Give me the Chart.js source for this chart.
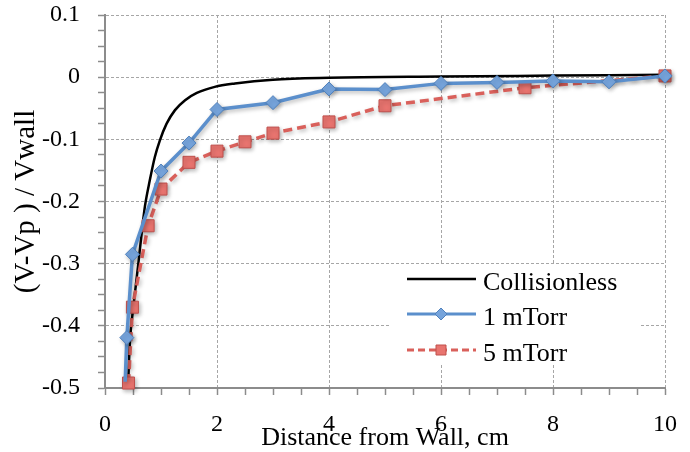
<!DOCTYPE html>
<html>
<head>
<meta charset="utf-8">
<script src="https://cdn.jsdelivr.net/npm/chart.js@4"></script>
<style>
html,body{margin:0;padding:0;background:#fff;}
#wrap{width:690px;height:452px;}
</style>
</head>
<body>
<div id="wrap"><canvas id="c" width="690" height="452"></canvas></div>
<script>
// ---- data ----
const xCollisionless = [0.41, 0.446, 0.506, 0.595, 0.68, 0.714, 0.80, 0.89, 0.98, 1.10, 1.25, 1.43, 1.64, 1.96, 2.32, 3.0, 4.0, 6.0, 8.0, 10.0];
const yCollisionless = [-0.50, -0.424, -0.370, -0.300, -0.231, -0.207, -0.166, -0.1285, -0.1016, -0.0747, -0.053, -0.037, -0.0253, -0.0156, -0.0102, -0.004, -0.001, 0.001, 0.0025, 0.004];

const x1mTorr = [0.36, 0.39, 0.49, 1.0, 1.5, 2.0, 3.0, 4.0, 5.0, 6.0, 7.0, 8.0, 9.0, 10.0];
const y1mTorr = [-0.49, -0.419, -0.285, -0.151, -0.106, -0.052, -0.041, -0.019, -0.020, -0.010, -0.0085, -0.006, -0.0075, 0.002];

const x5mTorr = [0.42, 0.49, 0.77, 1.0, 1.5, 2.0, 2.5, 3.0, 4.0, 5.0, 7.5, 10.0];
const y5mTorr = [-0.492, -0.370, -0.239, -0.180, -0.137, -0.119, -0.104, -0.090, -0.072, -0.046, -0.017, 0.002];

const seriesNames = ['Collisionless', '1 mTorr', '5 mTorr'];
const xTickLabels = ['0', '2', '4', '6', '8', '10'];
const yTickLabels = ['-0.5', '-0.4', '-0.3', '-0.2', '-0.1', '0', '0.1'];
const xTitle = 'Distance from Wall, cm';
const yTitle = '(V-Vp ) / Vwall';

const toPts = (xs, ys) => xs.map((x, i) => ({x: x, y: ys[i]}));

const SERIF = '"Liberation Serif", "Times New Roman", serif';
const AXIS = '#8c8c8c';
const GRID = '#a6a6a6';

function majorLabel(v, labels) {
  for (const l of labels) { if (Math.abs(parseFloat(l) - v) < 1e-6) return l; }
  return '';
}

const shadowPlugin = {
  id: 'shadow',
  beforeDatasetDraw(chart, args) {
    if (args.index === 0) return;
    const ctx = chart.ctx;
    ctx.save();
    ctx.shadowColor = 'rgba(0,0,0,0.28)';
    ctx.shadowBlur = 4;
    ctx.shadowOffsetX = 1.5;
    ctx.shadowOffsetY = 2;
  },
  afterDatasetDraw(chart, args) {
    if (args.index === 0) return;
    chart.ctx.restore();
  }
};

const legendPlugin = {
  id: 'inlegend',
  afterDatasetsDraw(chart) {
    const ctx = chart.ctx;
    ctx.save();
    ctx.fillStyle = '#ffffff';
    ctx.fillRect(390, 265, 250, 100);
    const rows = [279, 314, 350];
    const x1 = 407, x2 = 476, xm = 441;
    chart.data.datasets.forEach((ds, i) => {
      const y = rows[i];
      ctx.save();
      ctx.strokeStyle = ds.borderColor;
      ctx.lineWidth = Math.min(ds.borderWidth, 3);
      ctx.setLineDash(ds.borderDash ? [7, 4] : []);
      ctx.beginPath();
      ctx.moveTo(x1, y); ctx.lineTo(x2, y);
      ctx.stroke();
      ctx.setLineDash([]);
      if (ds.pointStyle) {
        ctx.fillStyle = ds.pointBackgroundColor;
        ctx.strokeStyle = ds.pointBorderColor;
        ctx.lineWidth = 1;
        ctx.beginPath();
        if (ds.pointStyle === 'rectRot') {
          const r = 6;
          ctx.moveTo(xm, y - r); ctx.lineTo(xm + r, y); ctx.lineTo(xm, y + r); ctx.lineTo(xm - r, y); ctx.closePath();
        } else {
          const h = 5;
          ctx.rect(xm - h, y - h, 2 * h, 2 * h);
        }
        ctx.fill(); ctx.stroke();
      }
      ctx.restore();
      ctx.fillStyle = '#000';
      ctx.font = '26px ' + SERIF;
      ctx.textBaseline = 'middle';
      ctx.textAlign = 'left';
      ctx.fillText(ds.label, 483, y + 4);
    });
    ctx.restore();
  }
};

new Chart(document.getElementById('c'), {
  type: 'line',
  data: {
    datasets: [
      {
        label: seriesNames[0],
        data: toPts(xCollisionless, yCollisionless),
        borderColor: '#000000',
        borderWidth: 2.5,
        pointRadius: 0,
        cubicInterpolationMode: 'monotone',
        order: 2,
        clip: false
      },
      {
        label: seriesNames[1],
        data: toPts(x1mTorr, y1mTorr),
        borderColor: '#5b8fcc',
        borderWidth: 3.5,
        pointStyle: 'rectRot',
        pointRadius: (c) => (c.dataIndex === 0 ? 0 : 7),
        pointBackgroundColor: '#76a4dc',
        pointBorderColor: '#4f81bd',
        pointBorderWidth: 1,
        tension: 0,
        order: 0,
        clip: false
      },
      {
        label: seriesNames[2],
        data: toPts(x5mTorr, y5mTorr),
        borderColor: '#d9605b',
        borderWidth: 3.5,
        borderDash: [9, 5],
        pointStyle: 'rect',
        pointRadius: 8.5,
        pointBackgroundColor: '#e8746f',
        pointBorderColor: '#c0504d',
        pointBorderWidth: 1,
        tension: 0,
        order: 1,
        clip: false
      }
    ]
  },
  options: {
    responsive: false,
    animation: false,
    events: [],
    layout: {padding: {left: 0, right: 25, top: 15, bottom: 0}},
    plugins: {legend: {display: false}, tooltip: {enabled: false}},
    scales: {
      x: {
        type: 'linear',
        min: 0, max: 10,
        afterFit(s) { s.height = 64; s.paddingLeft = 0; s.paddingRight = 0; },
        ticks: {
          stepSize: 0.5,
          autoSkip: false,
          maxRotation: 0,
          padding: 15,
          color: '#000',
          font: {family: SERIF, size: 24},
          callback: (v) => majorLabel(v, xTickLabels)
        },
        grid: {
          color: (c) => (c.tick && majorLabel(c.tick.value, xTickLabels) !== '' && c.tick.value !== 0) ? GRID : 'rgba(0,0,0,0)',
          lineWidth: 1,
          tickColor: AXIS,
          tickWidth: 1.5,
          tickLength: 7
        },
        border: {display: true, color: AXIS, width: 2, dash: [3, 2]},
        title: {
          display: true,
          text: xTitle,
          color: '#000',
          font: {family: SERIF, size: 26, lineHeight: 1},
          padding: {top: 0, bottom: 1}
        }
      },
      y: {
        type: 'linear',
        min: -0.5, max: 0.1,
        afterFit(s) { s.width = 105; s.paddingTop = 0; s.paddingBottom = 0; },
        ticks: {
          stepSize: 0.025,
          autoSkip: false,
          padding: 18,
          color: '#000',
          font: {family: SERIF, size: 24},
          callback: (v) => majorLabel(v, yTickLabels)
        },
        grid: {
          color: (c) => (c.tick && majorLabel(c.tick.value, yTickLabels) !== '' && Math.abs(c.tick.value + 0.5) > 1e-6) ? GRID : 'rgba(0,0,0,0)',
          lineWidth: 1,
          tickColor: AXIS,
          tickWidth: 1.5,
          tickLength: 7
        },
        border: {display: true, color: AXIS, width: 2, dash: [3, 2]},
        title: {
          display: true,
          text: yTitle,
          color: '#000',
          font: {family: SERIF, size: 29, lineHeight: 1},
          padding: {top: 11.5, bottom: 0}
        }
      }
    }
  },
  plugins: [shadowPlugin, legendPlugin]
});
</script>
</body>
</html>
